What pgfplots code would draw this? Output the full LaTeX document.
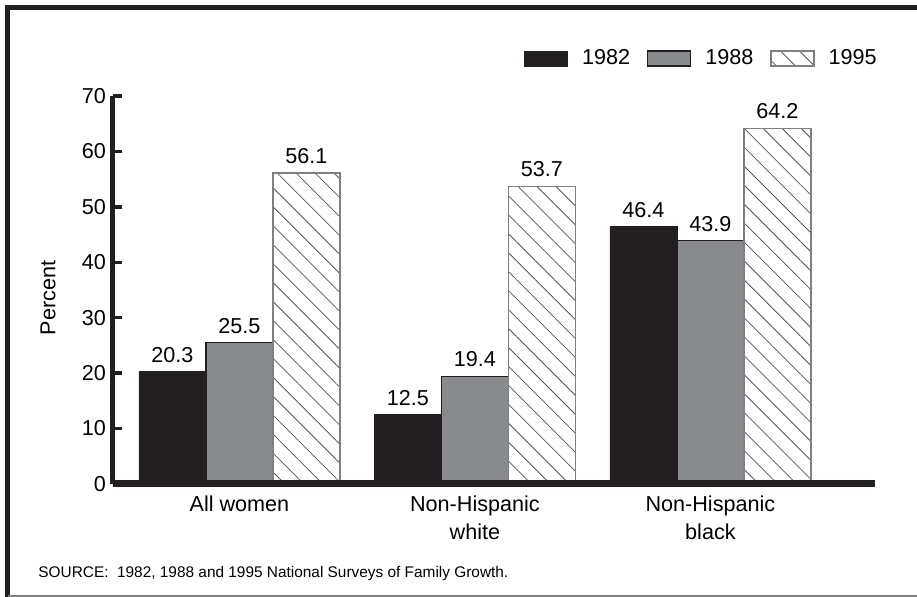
\documentclass[border=0pt]{standalone}
\usepackage{pgfplots}
\pgfplotsset{compat=1.18}
\usetikzlibrary{patterns.meta}
\usepackage{fontspec}
\setmainfont{Liberation Sans}
\definecolor{barblack}{HTML}{231F20}
\definecolor{bargray}{HTML}{898A8D}
\definecolor{hatchgray}{HTML}{555557}
\newcommand{\lab}{\fontsize{10.8}{14}\selectfont}
\pgfplotsset{rectlegend/.style={legend image code/.code={\draw[##1] (0pt,-3.75pt) rectangle (21.5pt,3.75pt);}}}

\begin{document}
\begin{tikzpicture}
\useasboundingbox (0,0) rectangle (458.5pt,298.5pt);
% frame
\draw[line width=2.5pt, barblack] (2.5pt,294.75pt) -- (458.5pt,294.75pt);
\draw[line width=2.5pt, barblack] (3.75pt,296pt) -- (3.75pt,0pt);
\draw[line width=1pt, gray] (3.75pt,0.5pt) -- (458.5pt,0.5pt);
\node[anchor=base west, font=\fontsize{7.7}{9}\selectfont, inner sep=0pt] at (19pt,9.5pt)
  {SOURCE:\ \ 1982, 1988 and 1995 National Surveys of Family Growth.};

\begin{axis}[
    at={(56.5pt,56.5pt)}, anchor=south west,
    scale only axis, width=381pt, height=194pt,
    ybar=0pt, bar width=33.5pt,
    xmin=-0.537, xmax=2.699, ymin=0, ymax=70,
    axis lines=left, axis on top,
    axis line style={-, barblack},
    y axis line style={line width=2.5pt},
    x axis line style={line width=3.5pt},
    xtick={0,1,2},
    xticklabels={All women, Non-Hispanic\\white, Non-Hispanic\\black},
    xticklabel style={align=center, font=\lab, yshift=-2.5pt},
    xtick style={draw=none},
    ytick={0,10,...,70},
    yticklabel style={font=\lab},
    ytick style={line width=1.75pt, barblack},
    tick align=inside, major tick length=4.5pt,
    /pgf/number format/assume math mode=true,
    ylabel={Percent},
    ylabel style={font=\lab, at={(axis description cs:-0.0853,0.479)}, anchor=center},
    nodes near coords,
    every node near coord/.append style={font=\lab, text=black, yshift=1pt},
    legend columns=3,
    legend style={at={(rel axis cs:1.0026,1.0966)}, anchor=east, draw=none, fill=none,
        inner sep=0pt, nodes={inner sep=0pt},
        font=\lab,
        /tikz/every odd column/.append style={column sep=7pt},
        /tikz/every even column/.append style={column sep=8.5pt}},
]
\addplot[fill=barblack, draw=barblack, rectlegend]
    coordinates {(0,20.3) (1,12.5) (2,46.4)};
\addplot[fill=bargray, draw=barblack, line width=0.6pt, rectlegend]
    coordinates {(0,25.5) (1,19.4) (2,43.9)};
\addplot[fill=white, postaction={pattern={Lines[angle=-45,distance=6.7pt,line width=0.4pt]}, pattern color=hatchgray},
    draw=gray, line width=0.6pt, rectlegend]
    coordinates {(0,56.1) (1,53.7) (2,64.2)};
\legend{1982, 1988, 1995}
\end{axis}
\end{tikzpicture}
\end{document}
